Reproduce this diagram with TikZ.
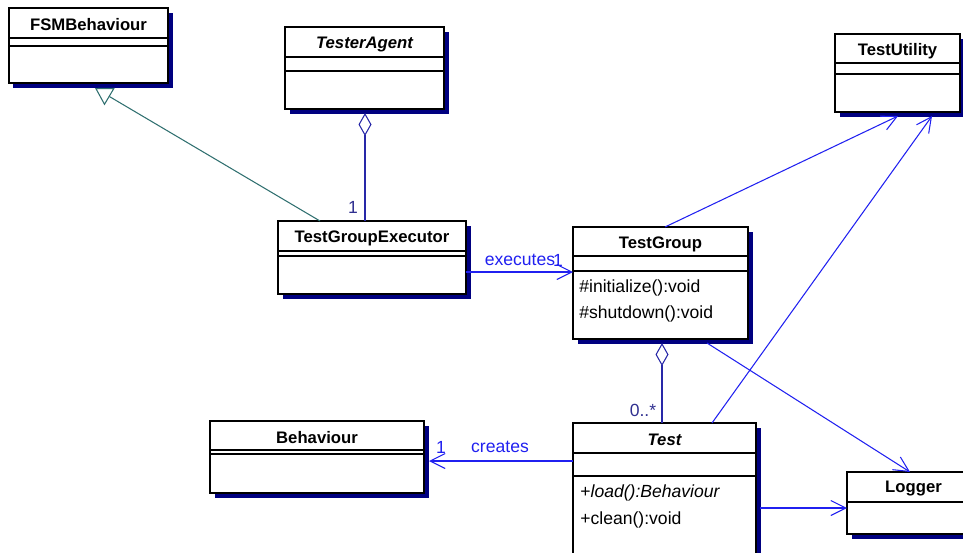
\documentclass[tikz,border=0pt]{standalone}
\usepackage{fontspec}
\setmainfont{Liberation Sans}
\usetikzlibrary{arrows.meta,calc,shadows}
\definecolor{shadownavy}{HTML}{000080}
\definecolor{linkblue}{HTML}{2020F0}
\definecolor{aggblue}{HTML}{2828A8}
\definecolor{multblue}{HTML}{303090}
\definecolor{genteal}{HTML}{2F6F6F}
\begin{document}
\begin{tikzpicture}[x=0.02cm,y=-0.02cm,
	cls/.style={draw=black,line width=0.85pt,fill=white,inner sep=0pt,outer sep=0pt,
		drop shadow={fill=shadownavy,opacity=1,shadow xshift=0.09cm,shadow yshift=-0.09cm}},
	ttl/.style={font=\fontsize{9.5}{11}\selectfont\bfseries},
	op/.style={font=\fontsize{10}{12}\selectfont,anchor=west,inner sep=0pt},
	lbl/.style={font=\fontsize{10}{12}\selectfont,inner sep=0pt},
	asc/.style={draw=linkblue,line width=0.6pt,-{Straight Barb[length=0.3cm,width=0.3cm]}},
	agg/.style={draw=aggblue,line width=0.6pt,{Diamond[open,length=0.46cm,width=0.26cm,fill=white]}-},
	gen/.style={draw=genteal,line width=0.6pt,-{Triangle[open,length=0.34cm,width=0.4cm,fill=white]}}]
		\useasboundingbox (0,0) rectangle (963,552);
		\clip (0,0) rectangle (963,552);
		% class boxes: name/left/top/right/bottom/line1/line2
		\foreach \n/\xa/\ya/\xb/\yb/\la/\lb in {fsm/9/8/168/83/38/46,agent/285/27/444/109/57/71,exec/278/221/466/294/251/256,group/573/227/748/339/256/271,util/835/34/960/112/63/74,test/573/423/756/570/453/476,beh/210/421/424/493/450/454,logger/847/472/980/534/502/502}
		{\node[cls,minimum width={(\xb-\xa)*0.02cm},minimum height={(\yb-\ya)*0.02cm}] (\n) at ({(\xa+\xb)/2},{(\ya+\yb)/2}) {};
		\draw[line width=0.85pt] (\xa,\la)--(\xb,\la) (\xa,\lb)--(\xb,\lb);}
		\foreach \n/\t in {fsm/FSMBehaviour,agent/{\itshape TesterAgent},exec/TestGroupExecutor,group/TestGroup,util/TestUtility,test/{\itshape Test},beh/Behaviour,logger/Logger}
		\node[ttl] (\n-title) at ($(\n.north)+(0,17)$) {\t};
		\node[op] (group-init) at ($(group.north west)+(6,61)$) {\#initialize():void};
		\node[op] (group-shut) at ($(group.north west)+(6,87)$) {\#shutdown():void};
		\node[op] (test-load) at ($(test.north west)+(7,70)$) {+\textit{load():Behaviour}};
		\node[op] (test-clean) at ($(test.north west)+(7,97)$) {+clean():void};
		% relations
		\draw[gen] ($(exec.north west)+(42,0)$)--($(fsm.south west)+(86,5)$);
		\draw[agg] ($(agent.south west)+(80,4)$)--($(exec.north west)+(87,0)$);
		\draw[agg] ($(group.south west)+(89,4)$)--($(test.north west)+(89,0)$);
		\draw[asc] ($(exec.north east)+(0,51)$)--($(group.north west)+(0,45)$);
		\draw[asc] ($(group.north west)+(92,0)$)--($(util.south west)+(63,4)$);
		\draw[asc] ($(test.north west)+(139,0)$)--($(util.south west)+(97,4)$);
		\draw[asc] ($(group.south west)+(134,4)$)--($(logger.north west)+(63,0)$);
		\draw[asc] ($(test.north west)+(0,38)$)--($(beh.north east)+(5,40)$);
		\draw[asc] ($(test.north east)+(4,85)$)--($(logger.north west)+(0,36)$);
		\foreach \nm/\pos/\txt/\col in {m-agent/{353,207}/1/multblue,m-test/{643,410}/0..*/multblue,executes/{520,260}/executes/linkblue,m-group/{558,260}/1/linkblue,creates/{500,447}/creates/linkblue,m-beh/{441,447}/1/linkblue}
		\node[lbl,text=\col] (\nm) at (\pos) {\txt};
	\end{tikzpicture}
\end{document}
